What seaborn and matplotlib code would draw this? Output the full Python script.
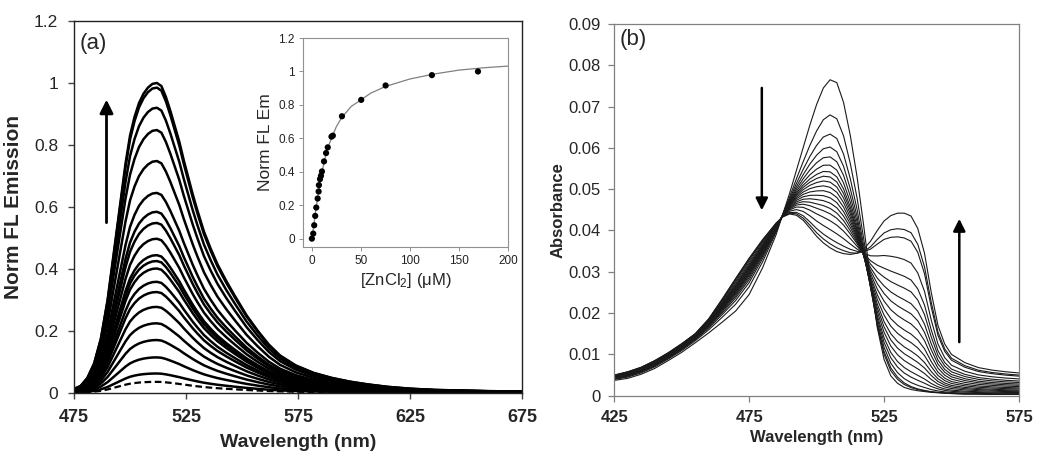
import numpy as np
import pandas as pd
import seaborn as sns
import matplotlib
matplotlib.use('Agg')
import matplotlib.pyplot as plt

# ---- panel (a): emission spectra (normalised profile)
wl_a = [475, 478, 481, 484, 487, 490, 492, 494, 496, 498, 500, 502, 504, 506, 508,
        510, 512, 514, 516, 518, 520, 522, 524, 526, 528, 530, 533, 536, 539, 543,
        547, 552, 557, 562, 567, 574, 582, 590, 598, 606, 615, 625, 636, 648, 660, 675]
profile_a = [0.012, 0.022, 0.048, 0.095, 0.175, 0.30, 0.41, 0.52, 0.63, 0.74, 0.83, 0.89,
             0.935, 0.965, 0.985, 0.997, 1.0, 0.99, 0.955, 0.91, 0.86, 0.81, 0.75, 0.695,
             0.64, 0.59, 0.52, 0.465, 0.415, 0.36, 0.31, 0.25, 0.20, 0.155, 0.12, 0.088,
             0.064, 0.048, 0.036, 0.027, 0.019, 0.013, 0.009, 0.007, 0.005, 0.004]
peaks_a = [1.0, 0.985, 0.92, 0.848, 0.748, 0.645, 0.584, 0.548, 0.497, 0.444, 0.425,
           0.401, 0.358, 0.325, 0.277, 0.224, 0.17, 0.114, 0.062]
peak_dashed = 0.035

# inset: titration points and fit
conc = [0, 1.4, 2.4, 3.4, 4.5, 5.9, 6.9, 7.2, 8.3, 9.3, 10.3, 12.4, 14.5, 16.2, 20, 21.4,
        30.7, 50.3, 75.2, 122.4, 169.4]
norm_em = [0, 0.03, 0.08, 0.136, 0.186, 0.24, 0.282, 0.32, 0.356, 0.376, 0.402, 0.462,
           0.512, 0.546, 0.61, 0.616, 0.732, 0.83, 0.916, 0.978, 1.0]
fit_x = [0, 2, 4, 6, 8, 10, 13, 16, 20, 25, 30, 40, 50, 60, 75, 100, 125, 150, 175, 200]
fit_y = [0, 0.08, 0.17, 0.25, 0.32, 0.39, 0.47, 0.54, 0.60, 0.67, 0.72, 0.79, 0.83, 0.87,
         0.91, 0.955, 0.985, 1.008, 1.022, 1.032]

# ---- panel (b): absorbance, free / intermediate / bound spectra and weights
wl_b = [425, 430, 435, 440, 445, 450, 455, 460, 465, 470, 475, 480, 485,
        487.5, 490, 492.5, 495, 497.5, 500, 502.5, 505, 507.5, 510, 512.5, 515, 517.5,
        520, 522.5, 525, 527.5, 530, 532.5, 535, 537.5, 540, 542.5, 545, 547.5, 550,
        555, 560, 565, 570, 575]
abs_free = [.0037, .0042, .0052, .0066, .0085, .0105, .0128, .0152, .0178, .0205, .0245, .031, .039,
            .044, .049, .0545, .060, .0655, .0705, .0745, .0765, .0758, .071, .063, .053, .041,
            .028, .0165, .0088, .0048, .003, .002, .0015, .0012, .001, .0008, .0007, .0006, .0005,
            .0004, .0004, .0003, .0003, .0003]
abs_mid = [.0048, .0056, .0067, .0083, .0102, .0124, .0150, .0186, .0232, .0280, .0330, .0375, .0418,
           .0437, .0450, .0453, .0446, .0432, .0414, .0396, .0378, .0360, .0342, .0322, .0298, .0268,
           .0230, .0188, .0145, .0105, .0074, .0052, .0036, .0025, .0018, .0013, .0010, .0008, .0007,
           .0006, .0005, .0005, .0004, .0004]
abs_bound = [.0050, .0058, .0069, .0085, .0104, .0126, .0150, .0186, .0234, .0284, .0333, .0378, .0418,
             .0433, .0440, .0437, .0425, .0406, .0386, .0370, .0358, .0349, .0344, .0342, .0345, .0355,
             .0374, .0400, .0423, .0436, .0442, .0442, .0435, .0405, .0345, .0250, .0170, .0125, .0100,
             .0080, .0068, .0062, .0058, .0055]
w_free = [1.00, 0.78, 0.66, 0.58, 0.52, 0.47, 0.43, 0.40, 0.37, 0.34, 0.31, 0.28, 0.25, 0.22,
          0.19, 0.15, 0.10, 0.05, 0.02, 0.00]
w_mid = [0.00, 0.22, 0.34, 0.40, 0.43, 0.45, 0.45, 0.44, 0.43, 0.41, 0.39, 0.36, 0.33, 0.30,
         0.26, 0.23, 0.18, 0.10, 0.08, 0.00]
w_bound = [0.00, 0.00, 0.00, 0.02, 0.05, 0.08, 0.12, 0.16, 0.20, 0.25, 0.30, 0.36, 0.42, 0.48,
           0.55, 0.62, 0.72, 0.85, 0.90, 1.00]

sns.set_theme(style='white')
plt.rcParams['font.family'] = ['Liberation Sans', 'DejaVu Sans']
plt.rcParams['mathtext.fontset'] = 'custom'
plt.rcParams['mathtext.rm'] = 'Liberation Sans'
plt.rcParams['mathtext.it'] = 'Liberation Sans:italic'

fig = plt.figure(figsize=(10.5, 4.67), dpi=100)
ax_a = fig.add_axes([0.0705, 0.1591, 0.4267, 0.7959])
ax_b = fig.add_axes([0.585, 0.1527, 0.3854, 0.7959])
ax_in = fig.add_axes([0.2886, 0.4711, 0.1952, 0.4475])

# panel (a)
prof = np.array(profile_a)
df_a = pd.DataFrame([(i, w, h * p) for i, h in enumerate(peaks_a) for w, p in zip(wl_a, prof)],
                    columns=['curve', 'wl', 'em'])
sns.lineplot(data=df_a, x='wl', y='em', units='curve', estimator=None, color='black',
             lw=1.8, ax=ax_a)
sns.lineplot(x=wl_a, y=prof * peak_dashed, color='black', lw=1.6,
             linestyle=(0, (3, 1.6)), ax=ax_a)
ax_a.set_xlim(475, 675)
ax_a.set_ylim(0, 1.2)
ax_a.set_xticks([475, 525, 575, 625, 675])
ax_a.set_xticklabels(['475', '525', '575', '625', '675'], fontsize=13, fontweight='bold')
ax_a.set_yticks([0, 0.2, 0.4, 0.6, 0.8, 1.0, 1.2])
ax_a.set_yticklabels(['0', '0.2', '0.4', '0.6', '0.8', '1', '1.2'], fontsize=12.5)
ax_a.set_xlabel('Wavelength (nm)', fontsize=14, fontweight='bold', labelpad=6)
ax_a.set_ylabel('Norm FL Emission', fontsize=15, fontweight='bold', labelpad=8)
ax_a.text(477.4, 1.16, '(a)', fontsize=16, va='top', ha='left')
ax_a.annotate('', xy=(489.5, 0.955), xytext=(489.5, 0.54),
              arrowprops=dict(arrowstyle='-|>', color='black', lw=2, mutation_scale=20))
for s in ax_a.spines.values():
    s.set_color('#222222')
    s.set_linewidth(1.0)
ax_a.tick_params(bottom=True, left=True, direction='out', length=4.5, width=1,
                 color='#444444', pad=7)

# inset
sns.lineplot(x=fit_x, y=fit_y, color='#808080', lw=0.9, ax=ax_in)
sns.scatterplot(x=conc, y=norm_em, color='black', s=20, edgecolor='none', ax=ax_in, zorder=3)
ax_in.set_xlim(-9, 200)
ax_in.set_ylim(-0.05, 1.2)
ax_in.set_xticks([0, 50, 100, 150, 200])
ax_in.set_xticklabels(['0', '50', '100', '150', '200'], fontsize=8.5, color='#222222')
ax_in.set_yticks([0, 0.2, 0.4, 0.6, 0.8, 1.0, 1.2])
ax_in.set_yticklabels(['0', '0.2', '0.4', '0.6', '0.8', '1', '1.2'], fontsize=8.5,
                      color='#222222')
ax_in.set_xlabel('[ZnCl$_2$] (\u03bcM)', fontsize=12, labelpad=3)
ax_in.set_ylabel('Norm FL Em', fontsize=12.5, labelpad=4)
for s in ax_in.spines.values():
    s.set_color('#909090')
    s.set_linewidth(0.8)
ax_in.tick_params(bottom=True, left=True, direction='out', length=3, width=0.7,
                  color='#909090', pad=3)

# panel (b)
F, M, B = np.array(abs_free), np.array(abs_mid), np.array(abs_bound)
df_b = pd.DataFrame([(i, w, a) for i, (wf, wm, wb) in enumerate(zip(w_free, w_mid, w_bound))
                     for w, a in zip(wl_b, wf * F + wm * M + wb * B)],
                    columns=['curve', 'wl', 'absorb'])
sns.lineplot(data=df_b, x='wl', y='absorb', units='curve', estimator=None, color='#1a1a1a',
             lw=0.8, ax=ax_b)
ax_b.set_xlim(425, 575)
ax_b.set_ylim(0, 0.09)
ax_b.set_xticks([425, 475, 525, 575])
ax_b.set_xticklabels(['425', '475', '525', '575'], fontsize=12, fontweight='bold')
ax_b.set_yticks([0, 0.01, 0.02, 0.03, 0.04, 0.05, 0.06, 0.07, 0.08, 0.09])
ax_b.set_yticklabels(['0', '0.01', '0.02', '0.03', '0.04', '0.05', '0.06', '0.07', '0.08',
                      '0.09'], fontsize=12)
ax_b.set_xlabel('Wavelength (nm)', fontsize=12, fontweight='bold', labelpad=4)
ax_b.set_ylabel('Absorbance', fontsize=12, fontweight='bold', labelpad=2)
ax_b.text(427.0, 0.0888, '(b)', fontsize=16, va='top', ha='left')
ax_b.annotate('', xy=(479.7, 0.0442), xytext=(479.7, 0.0752),
              arrowprops=dict(arrowstyle='-|>', color='black', lw=1.8, mutation_scale=18))
ax_b.annotate('', xy=(552.9, 0.0435), xytext=(552.9, 0.0123),
              arrowprops=dict(arrowstyle='-|>', color='black', lw=1.8, mutation_scale=18))
for s in ax_b.spines.values():
    s.set_color('#808080')
    s.set_linewidth(0.9)
ax_b.tick_params(bottom=True, left=True, direction='out', length=4, width=0.9,
                 color='#808080', pad=6)

fig.savefig('out.png', dpi=100)
